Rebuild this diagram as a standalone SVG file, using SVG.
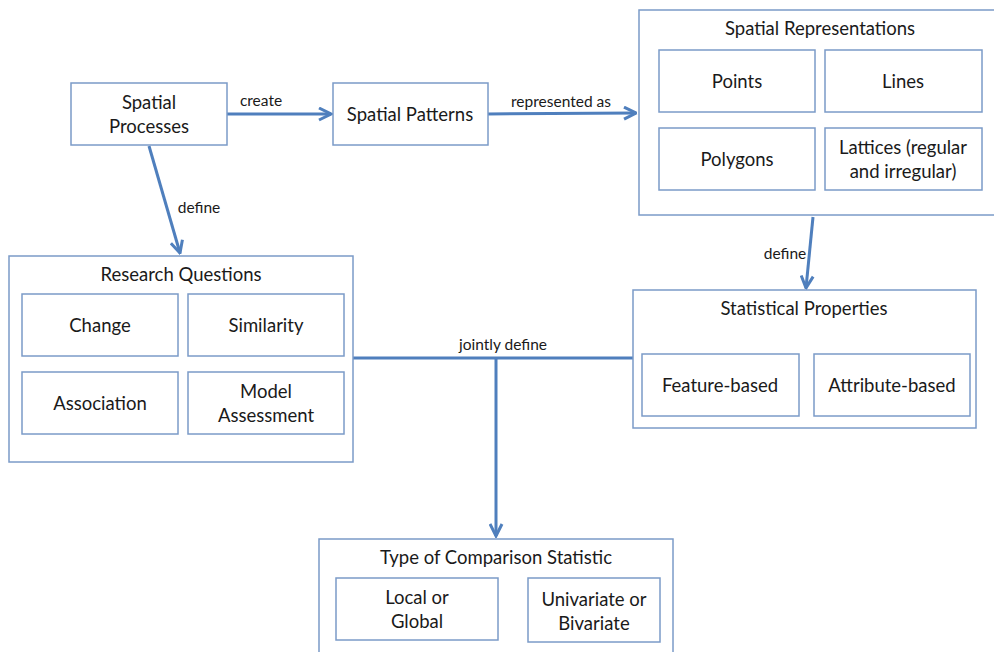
<svg xmlns="http://www.w3.org/2000/svg" width="994" height="652" viewBox="0 0 994 652">
<defs>
<marker id="ah" viewBox="0 0 10 10" refX="9" refY="5" markerWidth="5" markerHeight="5" orient="auto" markerUnits="strokeWidth">
<path d="M1,1 L9,5 L1,9" fill="none" stroke="#4f7fbd" stroke-width="2"/>
</marker>
<style>
.box{fill:#fff;stroke:#7b9bc8;stroke-width:1.5}
.t{font-family:Lato,"Liberation Sans",sans-serif;font-size:18.5px;fill:#1a1a1a;text-anchor:middle}
.l{font-family:Lato,"Liberation Sans",sans-serif;font-size:15.5px;fill:#1a1a1a;text-anchor:middle}
.c{fill:none;stroke:#4f7fbd;stroke-width:3}
</style>
</defs>
<rect width="994" height="652" fill="#fff"/>
<g id="connectors">
<line class="c" x1="227" y1="114" x2="331" y2="114" marker-end="url(#ah)"/>
<text class="l" x="261" y="106">create</text>
<line class="c" x1="488" y1="114" x2="636" y2="113" marker-end="url(#ah)"/>
<text class="l" x="561" y="107">represented as</text>
<line class="c" x1="149" y1="146" x2="180" y2="253" marker-end="url(#ah)"/>
<text class="l" x="199" y="213">define</text>
<line class="c" x1="813" y1="217" x2="806" y2="288" marker-end="url(#ah)"/>
<text class="l" x="785" y="259">define</text>
<line class="c" x1="353" y1="358" x2="633" y2="358"/>
<line class="c" x1="496" y1="358" x2="496" y2="536" marker-end="url(#ah)"/>
<text class="l" x="503" y="350">jointly define</text>
</g>
<g id="spatial-processes">
<rect class="box" x="71" y="83" width="156" height="62"/>
<text class="t" x="149" y="109">Spatial</text>
<text class="t" x="149" y="133">Processes</text>
</g>
<g id="spatial-patterns">
<rect class="box" x="333" y="83" width="155" height="62"/>
<text class="t" x="410" y="121">Spatial Patterns</text>
</g>
<g id="spatial-representations">
<rect class="box" x="639" y="10" width="365" height="205"/>
<text class="t" x="820" y="35">Spatial Representations</text>
<rect class="box" x="659" y="50" width="156" height="62"/>
<text class="t" x="737" y="88">Points</text>
<rect class="box" x="825" y="50" width="157" height="62"/>
<text class="t" x="903" y="88">Lines</text>
<rect class="box" x="659" y="128" width="156" height="62"/>
<text class="t" x="737" y="166">Polygons</text>
<rect class="box" x="825" y="128" width="157" height="62"/>
<text class="t" x="903" y="154">Lattices (regular</text>
<text class="t" x="903" y="178">and irregular)</text>
</g>
<g id="research-questions">
<rect class="box" x="9" y="256" width="344" height="206"/>
<text class="t" x="181" y="281">Research Questions</text>
<rect class="box" x="22" y="294" width="156" height="62"/>
<text class="t" x="100" y="332">Change</text>
<rect class="box" x="188" y="294" width="156" height="62"/>
<text class="t" x="266" y="332">Similarity</text>
<rect class="box" x="22" y="372" width="156" height="62"/>
<text class="t" x="100" y="410">Association</text>
<rect class="box" x="188" y="372" width="156" height="62"/>
<text class="t" x="266" y="398">Model</text>
<text class="t" x="266" y="422">Assessment</text>
</g>
<g id="statistical-properties">
<rect class="box" x="633" y="290" width="343" height="138"/>
<text class="t" x="804" y="315">Statistical Properties</text>
<rect class="box" x="642" y="354" width="157" height="62"/>
<text class="t" x="720" y="392">Feature-based</text>
<rect class="box" x="814" y="354" width="156" height="62"/>
<text class="t" x="892" y="392">Attribute-based</text>
</g>
<g id="comparison-statistic">
<rect class="box" x="319" y="539" width="354" height="125"/>
<text class="t" x="496" y="564">Type of Comparison Statistic</text>
<rect class="box" x="336" y="578" width="162" height="62"/>
<text class="t" x="417" y="604">Local or</text>
<text class="t" x="417" y="628">Global</text>
<rect class="box" x="528" y="578" width="132" height="64"/>
<text class="t" x="594" y="606">Univariate or</text>
<text class="t" x="594" y="630">Bivariate</text>
</g>
</svg>
